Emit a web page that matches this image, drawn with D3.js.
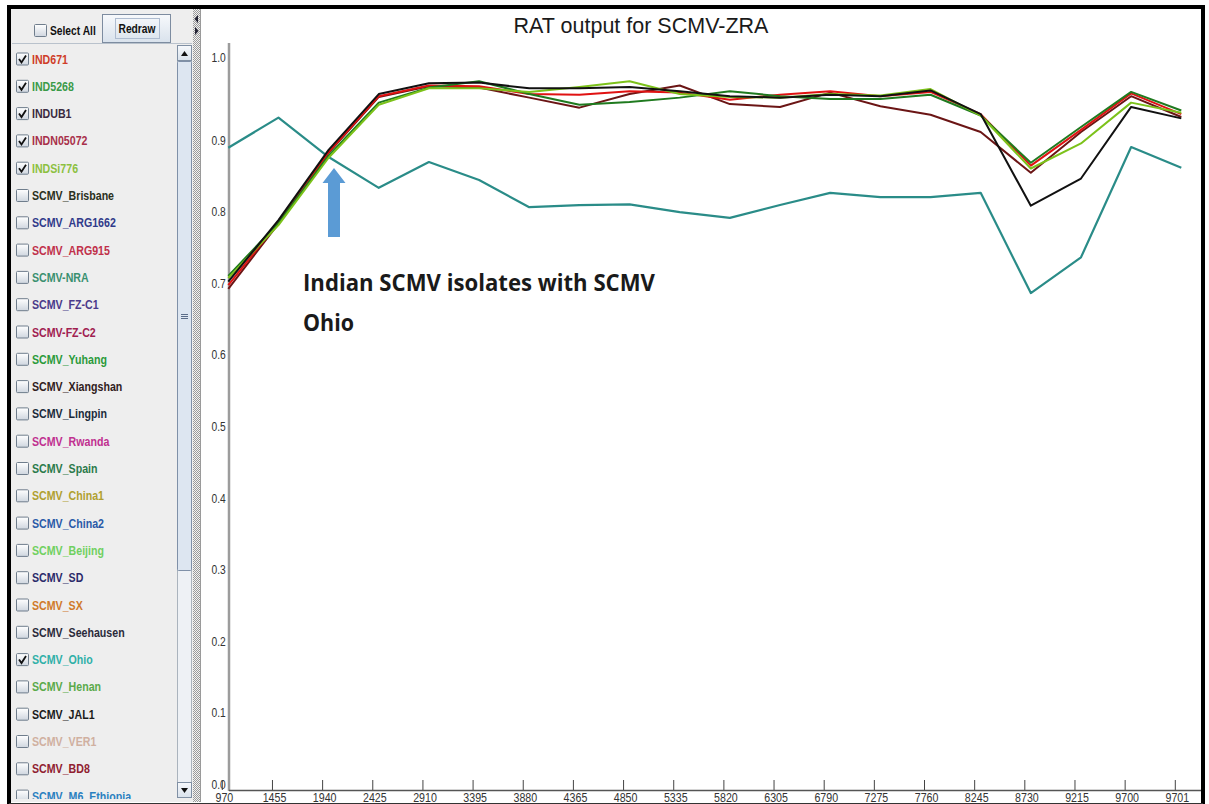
<!DOCTYPE html>
<html>
<head>
<meta charset="utf-8">
<script src="https://cdn.jsdelivr.net/npm/d3@7"></script>
<style>
  body { margin: 0; background: #fff; }
  .narrow { font-family: 'Liberation Sans', Arial, sans-serif; }
</style>
</head>
<body>
<svg id="chart" width="1209" height="804"></svg>
<script>
// genome positions on the x axis
const positions = ['970', '1455', '1940', '2425', '2910', '3395', '3880', '4365', '4850', '5335',
  '5820', '6305', '6790', '7275', '7760', '8245', '8730', '9215', '9700', '9701'];

// RAT similarity values
const ind671 = [0.705, 0.793, 0.891, 0.969, 0.984, 0.983, 0.972, 0.971, 0.976, 0.974,
  0.964, 0.971, 0.976, 0.969, 0.975, 0.944, 0.872, 0.922, 0.973, 0.944];
const ind5268 = [0.718, 0.792, 0.886, 0.960, 0.981, 0.990, 0.972, 0.957, 0.961, 0.967,
  0.976, 0.969, 0.965, 0.965, 0.971, 0.942, 0.876, 0.926, 0.975, 0.949];
const indub1 = [0.710, 0.796, 0.894, 0.972, 0.987, 0.988, 0.980, 0.980, 0.982, 0.976,
  0.969, 0.967, 0.971, 0.969, 0.977, 0.944, 0.816, 0.854, 0.954, 0.938];
const indn05072 = [0.700, 0.791, 0.890, 0.968, 0.983, 0.981, 0.967, 0.953, 0.972, 0.984,
  0.958, 0.954, 0.974, 0.955, 0.943, 0.919, 0.862, 0.919, 0.969, 0.940];
const indsi776 = [0.715, 0.789, 0.883, 0.957, 0.980, 0.980, 0.975, 0.982, 0.990, 0.972,
  0.968, 0.967, 0.972, 0.970, 0.979, 0.942, 0.868, 0.903, 0.960, 0.946];
const scmvOhio = [0.897, 0.939, 0.884, 0.841, 0.877, 0.852, 0.814, 0.817, 0.818, 0.807,
  0.799, 0.817, 0.834, 0.828, 0.828, 0.834, 0.694, 0.744, 0.898, 0.869];

const yTicks = [0, 0.1, 0.2, 0.3, 0.4, 0.5, 0.6, 0.7, 0.8, 0.9];
const Y_TOP = 1.016; // top of the value axis, printed as 1.0 by the tool

// isolate list in the side panel
const isolates = ['IND671', 'IND5268', 'INDUB1', 'INDN05072', 'INDSi776', 'SCMV_Brisbane',
  'SCMV_ARG1662', 'SCMV_ARG915', 'SCMV-NRA', 'SCMV_FZ-C1', 'SCMV-FZ-C2', 'SCMV_Yuhang',
  'SCMV_Xiangshan', 'SCMV_Lingpin', 'SCMV_Rwanda', 'SCMV_Spain', 'SCMV_China1', 'SCMV_China2',
  'SCMV_Beijing', 'SCMV_SD', 'SCMV_SX', 'SCMV_Seehausen', 'SCMV_Ohio', 'SCMV_Henan',
  'SCMV_JAL1', 'SCMV_VER1', 'SCMV_BD8', 'SCMV_M6_Ethiopia'];
const isolateColors = ['#cf3d28', '#3a9a48', '#3a2a40', '#a8304a', '#8cc040', '#2a3020',
  '#303a8a', '#c0304a', '#3a9070', '#4a3a8a', '#a02050', '#2a9a3a',
  '#302020', '#1a2a3a', '#c03090', '#2a7a4a', '#b0a030', '#2a5aa8',
  '#70d060', '#2a2a6a', '#d07a2a', '#2a2a3a', '#30b0a8', '#5aaa4a',
  '#1a1a1a', '#d0b0a0', '#902030', '#2a80c0'];
const checked = ['IND671', 'IND5268', 'INDUB1', 'INDN05072', 'INDSi776', 'SCMV_Ohio'];

const NARROW = 0.82; // Arial Narrow look from Liberation Sans

const main = () => {
  const svg = d3.select('#chart');
  const defs = svg.append('defs');

  const grad = defs.append('linearGradient').attr('id', 'boxGrad')
    .attr('x1', 0).attr('y1', 0).attr('x2', 0).attr('y2', 1);
  grad.append('stop').attr('offset', '0%').attr('stop-color', '#ffffff');
  grad.append('stop').attr('offset', '100%').attr('stop-color', '#cfd6df');

  const btnGrad = defs.append('linearGradient').attr('id', 'btnGrad')
    .attr('x1', 0).attr('y1', 0).attr('x2', 0).attr('y2', 1);
  btnGrad.append('stop').attr('offset', '0%').attr('stop-color', '#f7f9fc');
  btnGrad.append('stop').attr('offset', '100%').attr('stop-color', '#d9e2ec');

  const dots = defs.append('pattern').attr('id', 'dots')
    .attr('width', 2).attr('height', 2).attr('patternUnits', 'userSpaceOnUse');
  dots.append('rect').attr('width', 2).attr('height', 2).attr('fill', '#f2f2f2');
  dots.append('rect').attr('width', 1).attr('height', 1).attr('fill', '#9a9a9a');
  dots.append('rect').attr('x', 1).attr('y', 1).attr('width', 1).attr('height', 1).attr('fill', '#9a9a9a');

  defs.append('clipPath').attr('id', 'listClip')
    .append('rect').attr('x', 12).attr('y', 45).attr('width', 165).attr('height', 754);

  const narrowText = (g, x, y, str, sx = NARROW) => g.append('text').attr('class', 'narrow')
    .attr('transform', `translate(${x},${y}) scale(${sx},1)`)
    .attr('font-size', 12.5).attr('font-weight', 'bold').text(str);

  // ---- side panel ----
  svg.append('rect').attr('x', 10).attr('y', 9).attr('width', 184).attr('height', 793).attr('fill', '#eeeeee');
  svg.append('line').attr('x1', 12).attr('x2', 192).attr('y1', 43.5).attr('y2', 43.5).attr('stroke', '#b9c2cc');

  const drawBox = (g, x, y, on) => {
    g.append('rect').attr('x', x + 0.5).attr('y', y + 0.5).attr('width', 12).attr('height', 12)
      .attr('rx', 1).attr('fill', 'url(#boxGrad)').attr('stroke', '#6f7d8c');
    if (on) {
      g.append('path')
        .attr('d', `M${x + 3},${y + 6.5} L${x + 5.5},${y + 10} L${x + 10},${y + 3}`)
        .attr('fill', 'none').attr('stroke', '#111').attr('stroke-width', 1.8);
    }
  };

  const header = svg.append('g');
  drawBox(header, 34, 24, false);
  narrowText(header, 50, 34.5, 'Select All').attr('fill', '#111');
  header.append('rect').attr('x', 102.5).attr('y', 14.5).attr('width', 68).attr('height', 28)
    .attr('fill', 'url(#btnGrad)').attr('stroke', '#7d8ca0');
  header.append('rect').attr('x', 115.5).attr('y', 18.5).attr('width', 44).attr('height', 20)
    .attr('fill', 'none').attr('stroke', '#aebcd0');
  narrowText(header, 137, 33, 'Redraw').attr('text-anchor', 'middle').attr('fill', '#111');

  const list = svg.append('g').attr('clip-path', 'url(#listClip)');
  const rowY = d3.scaleLinear().domain([0, 1]).range([59, 86.3]);
  isolates.forEach((name, i) => {
    const cy = rowY(i);
    const row = list.append('g');
    drawBox(row, 16, cy - 6.5, checked.includes(name));
    narrowText(row, 32, cy + 4.5, name, 0.85).attr('fill', isolateColors[i]);
  });

  // scrollbar
  const sb = svg.append('g');
  sb.append('rect').attr('x', 177.5).attr('y', 45.5).attr('width', 14).attr('height', 752)
    .attr('fill', '#eef1f5').attr('stroke', '#aab3bd');
  sb.append('rect').attr('x', 177.5).attr('y', 45.5).attr('width', 14).attr('height', 15)
    .attr('fill', 'url(#btnGrad)').attr('stroke', '#8090a4');
  sb.append('path').attr('d', 'M181,56 L184.5,51 L188,56 Z').attr('fill', '#111');
  sb.append('rect').attr('x', 177.5).attr('y', 61.5).attr('width', 14).attr('height', 509)
    .attr('fill', '#dde6f1').attr('stroke', '#7f90a8').attr('rx', 1);
  [-2, 0, 2].forEach((d) => {
    sb.append('line').attr('x1', 181).attr('x2', 188).attr('y1', 316 + d + 0.5).attr('y2', 316 + d + 0.5)
      .attr('stroke', '#5a6c88');
  });
  sb.append('rect').attr('x', 177.5).attr('y', 782.5).attr('width', 14).attr('height', 15)
    .attr('fill', 'url(#btnGrad)').attr('stroke', '#8090a4');
  sb.append('path').attr('d', 'M181,788 L184.5,793 L188,788 Z').attr('fill', '#111');

  // splitter
  svg.append('rect').attr('x', 193).attr('y', 9).attr('width', 7).attr('height', 793).attr('fill', 'url(#dots)');
  svg.append('path').attr('d', 'M198,15 L194.5,19 L198,23 Z').attr('fill', '#223');
  svg.append('path').attr('d', 'M195,27 L198.5,31 L195,35 Z').attr('fill', '#223');
  svg.append('line').attr('x1', 200.5).attr('x2', 200.5).attr('y1', 9).attr('y2', 802).attr('stroke', '#9a9a9a');

  // ---- chart ----
  svg.append('text').attr('x', 641).attr('y', 33).attr('text-anchor', 'middle')
    .attr('font-family', "'Liberation Sans', Arial, sans-serif").attr('font-size', 21.5)
    .attr('fill', '#1a1a1a').text('RAT output for SCMV-ZRA');

  const x = d3.scalePoint().domain(positions).range([228.3, 1181.3]);
  const y = d3.scaleLinear().domain([0, Y_TOP]).range([790, 790 - 716 * Y_TOP]);

  // value axis: labels only, the line is drawn on its own
  const yAxis = svg.append('g').attr('class', 'narrow').attr('transform', 'translate(229,0)')
    .call(d3.axisLeft(y).tickValues(yTicks.concat([Y_TOP])).tickFormat(d3.format('.1f'))
      .tickSize(0).tickPadding(4));
  yAxis.select('.domain').remove();
  yAxis.selectAll('text').attr('dy', '-0.12em').attr('font-size', 12.5).attr('fill', '#333')
    .attr('font-family', null).attr('transform', `scale(${NARROW},1)`);

  svg.append('line').attr('x1', 229).attr('x2', 229).attr('y1', 43).attr('y2', 791)
    .attr('stroke', '#9c9c9c').attr('stroke-width', 2.5);

  const xAxis = svg.append('g').attr('class', 'narrow').attr('transform', 'translate(-6.5,790)')
    .call(d3.axisBottom(x).tickSizeInner(-10).tickSizeOuter(0).tickPadding(2.5));
  xAxis.select('.domain').remove();
  xAxis.selectAll('.tick line').attr('stroke', '#444');
  xAxis.selectAll('text').attr('font-size', 13).attr('fill', '#333').attr('dx', '2.5')
    .attr('font-family', null).attr('transform', `scale(${NARROW},1)`);

  svg.append('line').attr('x1', 229).attr('x2', 1203).attr('y1', 790.5).attr('y2', 790.5)
    .attr('stroke', '#555').attr('stroke-width', 1.5);

  const series = [
    { name: 'SCMV_Ohio', values: scmvOhio, color: '#2a8c88' },
    { name: 'INDN05072', values: indn05072, color: '#6b1515' },
    { name: 'IND671', values: ind671, color: '#e01212' },
    { name: 'IND5268', values: ind5268, color: '#1f7a1f' },
    { name: 'INDSi776', values: indsi776, color: '#7cc21a' },
    { name: 'INDUB1', values: indub1, color: '#111111' },
  ];

  const line = d3.line().x((d, i) => x(positions[i])).y((d) => y(d));
  svg.append('g').selectAll('path').data(series).enter().append('path')
    .attr('d', (s) => line(s.values))
    .attr('fill', 'none').attr('stroke', (s) => s.color)
    .attr('stroke-width', (s) => (s.name === 'SCMV_Ohio' ? 2.2 : 2))
    .attr('stroke-linejoin', 'round');

  // annotation
  svg.append('path')
    .attr('d', 'M328,237 L340,237 L340,183 L345.5,183 L334,168 L322.5,183 L328,183 Z')
    .attr('fill', '#5b9bd5');
  const note = svg.append('g').attr('font-family', "'Open Sans', 'Noto Sans', sans-serif")
    .attr('font-weight', 700).attr('font-size', 24).attr('fill', '#1a1a1a');
  note.append('text').attr('x', 303).attr('y', 291).attr('textLength', 352)
    .attr('lengthAdjust', 'spacingAndGlyphs').text('Indian SCMV isolates with SCMV');
  note.append('text').attr('x', 303).attr('y', 331).attr('textLength', 51)
    .attr('lengthAdjust', 'spacingAndGlyphs').text('Ohio');

  // outer frame
  svg.append('path').attr('d', 'M9,804 L9,7 L1203,7 L1203,804')
    .attr('fill', 'none').attr('stroke', '#000').attr('stroke-width', 4);
  svg.append('line').attr('x1', 9).attr('x2', 1203).attr('y1', 803.5).attr('y2', 803.5)
    .attr('stroke', '#333').attr('stroke-width', 1);
};
main();
</script>
</body>
</html>
